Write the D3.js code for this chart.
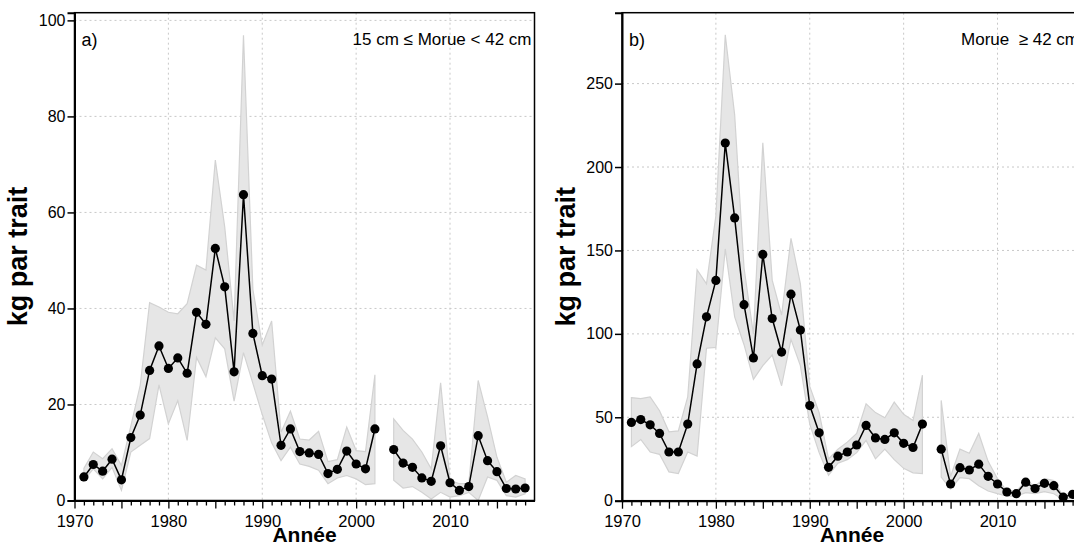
<!DOCTYPE html>
<html><head><meta charset="utf-8">
<script src="https://cdn.jsdelivr.net/npm/d3@7"></script>
<style>body{margin:0;background:#fff;} svg{display:block;font-family:"Liberation Sans",Arial,sans-serif;}</style>
</head><body>
<svg id="c" width="1074" height="546"></svg>
<script>
// ---- data ----
const years = [1971,1972,1973,1974,1975,1976,1977,1978,1979,1980,1981,1982,1983,1984,1985,1986,1987,1988,1989,1990,1991,1992,1993,1994,1995,1996,1997,1998,1999,2000,2001,2002,2003,2004,2005,2006,2007,2008,2009,2010,2011,2012,2013,2014,2015,2016,2017,2018];
// panel a : 15 cm <= Morue < 42 cm (null = no survey)
const smallMean  = [4.9,7.5,6.1,8.6,4.3,13.1,17.8,27.1,32.2,27.5,29.7,26.5,39.2,36.7,52.5,44.5,26.8,63.7,34.8,26.0,25.3,11.5,14.9,10.2,9.9,9.6,5.6,6.5,10.3,7.6,6.6,14.9,null,10.6,7.8,6.9,4.7,4.0,11.4,3.7,2.1,2.9,13.5,8.3,6.0,2.5,2.4,2.6];
const smallUpper = [6.7,10.1,8.7,10.8,7.3,15.5,24.0,41.2,40.3,39.2,38.9,41.0,49.0,48.0,70.9,57.0,37.4,96.9,44.0,32.4,37.4,14.2,18.6,12.8,12.6,14.4,8.1,8.5,15.3,10.4,10.2,26.2,null,17.0,14.6,12.8,10.1,6.6,24.5,4.2,3.5,3.5,25.0,17.4,9.0,3.8,5.2,4.5];
const smallLower = [4.2,6.6,4.5,6.9,2.1,10.1,11.5,12.9,24.1,16.0,20.8,12.5,29.8,25.8,33.9,31.6,20.7,30.8,24.4,17.9,12.0,8.3,11.1,7.6,7.1,6.3,3.5,4.7,5.2,4.5,3.3,3.5,null,4.2,2.6,2.9,1.7,0.3,1.7,0.7,1.0,1.7,0.0,4.9,4.2,1.0,0.7,1.4];
// panel b : Morue >= 42 cm
const largeMean  = [46.9,48.6,45.5,40.3,29.2,29.2,45.9,82.0,110.2,132.0,214.4,169.5,117.5,85.6,147.6,109.2,89.1,123.8,102.3,57.0,40.7,20.0,26.7,29.2,33.4,45.1,37.6,36.7,40.7,34.4,31.9,45.9,null,30.9,10.0,19.8,18.4,21.9,14.6,10.0,5.2,4.2,11.1,7.3,10.4,9.0,2.1,3.8];
const largeUpper = [61.8,61.2,62.2,53.9,41.3,41.8,62.2,138.4,130.0,170.8,279.3,231.3,139.5,99.8,214.6,132.2,111.3,157.2,130.1,68.5,52.8,25.0,30.9,35.1,40.3,58.0,52.8,49.7,59.1,51.8,48.0,75.2,null,60.1,14.5,30.9,28.4,40.3,23.6,13.2,5.8,5.8,11.7,9.0,13.2,12.1,2.7,5.8];
const largeLower = [32.4,36.7,29.2,27.8,17.3,16.3,29.2,26.7,91.4,91.9,150.9,110.2,93.5,72.7,81.0,87.3,68.9,96.7,81.0,45.9,28.8,15.2,22.5,24.6,28.8,36.1,25.1,30.9,24.6,19.4,16.7,16.3,null,14.2,7.0,13.8,13.2,9.0,5.8,4.2,2.7,2.7,4.8,4.2,5.4,4.2,0.6,1.7];
const xTickLabels = [1970,1980,1990,2000,2010];
const yTicksA = [0,20,40,60,80,100];
const yTicksB = [0,50,100,150,200,250];

const svg = d3.select("#c");

function panel(opts){
  const {left, top, width, height, yMax, yTicks, mean, upper, lower, tag, note} = opts;
  const g = svg.append("g");
  const x = d3.scaleLinear().domain([1970, 2019]).range([left, left+width]);
  const y = d3.scaleLinear().domain([0, yMax]).range([top+height, top]);
  const clipId = "clip"+tag.replace(/\W/g,"");
  svg.append("clipPath").attr("id", clipId).append("rect")
     .attr("x", left).attr("y", top).attr("width", width).attr("height", height);

  // grid
  const grid = g.append("g").attr("stroke","#c8c8c8").attr("stroke-width",1).attr("stroke-dasharray","2,3");
  grid.selectAll("line.gx").data(xTickLabels.slice(1)).enter().append("line")
     .attr("x1", d=>x(d)).attr("x2", d=>x(d)).attr("y1", top).attr("y2", top+height);
  grid.selectAll("line.gy").data(yTicks.slice(1)).enter().append("line")
     .attr("x1", left).attr("x2", left+width).attr("y1", d=>y(d)).attr("y2", d=>y(d));

  const rows = years.map((yr,i)=>({yr, m:mean[i], u:upper[i], l:lower[i]}));
  const defined = d => d.m !== null;
  const plot = g.append("g").attr("clip-path", `url(#${clipId})`);
  plot.append("path").datum(rows)
     .attr("d", d3.area().defined(defined).x(d=>x(d.yr)).y0(d=>y(d.l)).y1(d=>y(d.u)))
     .attr("fill","#e6e6e6").attr("stroke","#d2d2d2").attr("stroke-width",1.2);
  plot.append("path").datum(rows)
     .attr("d", d3.line().defined(defined).x(d=>x(d.yr)).y(d=>y(d.m)))
     .attr("fill","none").attr("stroke","#000").attr("stroke-width",1.5);
  plot.selectAll("circle").data(rows.filter(defined)).enter().append("circle")
     .attr("cx", d=>x(d.yr)).attr("cy", d=>y(d.m)).attr("r",4.6).attr("fill","#000");

  // frame
  g.append("rect").attr("x",left).attr("y",top).attr("width",width).attr("height",height)
     .attr("fill","none").attr("stroke","#000").attr("stroke-width",1.5);

  // x axis
  const yearTicks = d3.range(1970, 2019);
  const xAxis = d3.axisBottom(x).tickValues(yearTicks).tickSize(0).tickFormat("");
  const xa = g.append("g").attr("transform",`translate(0,${top+height})`).call(xAxis);
  xa.select(".domain").attr("stroke","#000").attr("stroke-width",2);
  xa.selectAll(".tick line").attr("stroke","#000").attr("stroke-width",1.3)
     .attr("y2", d => d%5===0 ? 8 : 5);
  xa.selectAll(".tick").filter(d=>xTickLabels.includes(d)).append("text")
     .attr("y", 26).attr("fill","#000").attr("font-size",16.5).attr("text-anchor","middle").text(d=>d);

  // y axis
  const yAxis = d3.axisLeft(y).tickValues(yTicks).tickSize(7).tickPadding(2);
  const ya = g.append("g").attr("transform",`translate(${left},0)`).call(yAxis);
  ya.select(".domain").attr("stroke","#000").attr("stroke-width",2);
  ya.selectAll(".tick line").attr("stroke","#000").attr("stroke-width",1.5);
  ya.selectAll(".tick text").attr("font-size",16).attr("fill","#000")
     .attr("font-family","'Liberation Sans',Arial,sans-serif");

  // titles
  g.append("text").attr("x", left+width/2).attr("y", 541.5).attr("text-anchor","middle")
     .attr("font-size",21).attr("font-weight","bold").text("Année");
  g.append("text").attr("transform",`translate(${left-47.5},${top+height/2}) rotate(-90)`)
     .attr("text-anchor","middle").attr("font-size",27).attr("font-weight","bold").text("kg par trait");
  g.append("text").attr("x", left+7).attr("y", top+33).attr("font-size",18).text(tag);
  g.append("text").attr("x", left+width-3).attr("y", top+32).attr("text-anchor","end")
     .attr("font-size",17).style("white-space","pre").text(note);
}

panel({left:74.5, top:12.7, width:460, height:487.8, yMax:101.6, yTicks:yTicksA,
       mean:smallMean, upper:smallUpper, lower:smallLower, tag:"a)", note:"15 cm \u2264 Morue < 42 cm"});
panel({left:622, top:12.7, width:460, height:488, yMax:292.5, yTicks:yTicksB,
       mean:largeMean, upper:largeUpper, lower:largeLower, tag:"b)", note:"Morue  \u2265 42 cm"});
</script>
</body></html>
